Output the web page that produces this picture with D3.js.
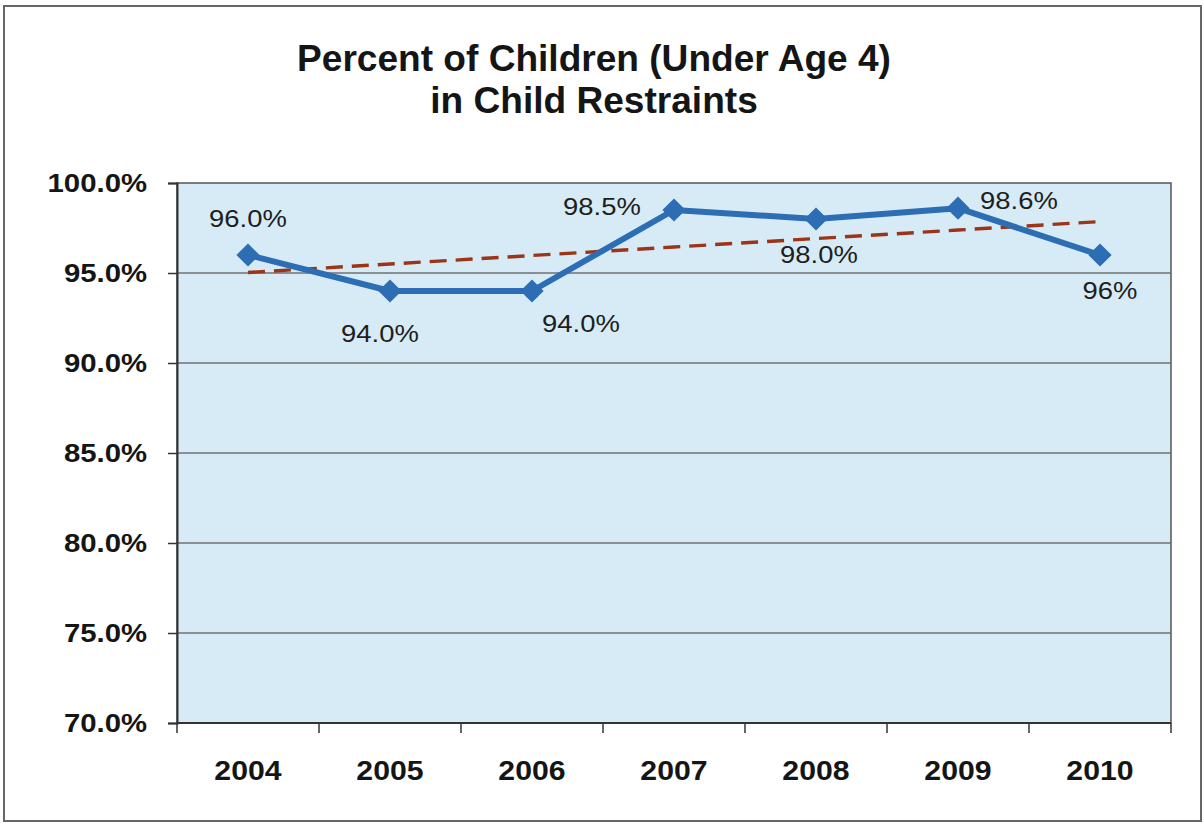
<!DOCTYPE html>
<html>
<head>
<meta charset="utf-8">
<script src="https://cdn.jsdelivr.net/npm/d3@7"></script>
<style>
  html, body { margin: 0; padding: 0; background: #fff; }
  svg { display: block; font-family: "Liberation Sans", Arial, Helvetica, sans-serif; }
</style>
</head>
<body>
<svg id="chart" width="1204" height="823"></svg>
<script>
// ---- data ----
const years = ["2004", "2005", "2006", "2007", "2008", "2009", "2010"];
const percents = [96.0, 94.0, 94.0, 98.5, 98.0, 98.6, 96.0];
const valueLabels = ["96.0%", "94.0%", "94.0%", "98.5%", "98.0%", "98.6%", "96%"];
const yTicks = [70, 75, 80, 85, 90, 95, 100];
const titleLines = ["Percent of Children (Under Age 4)", "in Child Restraints"];

// label placement (style, not data)
const labelOffsets = [[0, -28], [-10, 51], [49, 41], [-72, 5], [3, 44], [61, 1], [10, 44]];

const svg = d3.select("#chart");
const m = { left: 177, right: 1171, top: 183, bottom: 723 };

// outer frame
svg.append("rect").attr("x", 4).attr("y", 6).attr("width", 1197).attr("height", 815)
  .attr("fill", "#fff").attr("stroke", "#666").attr("stroke-width", 2);

// title
svg.append("g").selectAll("text").data(titleLines).join("text")
  .attr("transform", (d, i) => `translate(594,${71 + i * 42}) scale(1.03,1)`)
  .attr("text-anchor", "middle")
  .attr("font-size", 36).attr("font-weight", "bold").attr("fill", "#151515")
  .text(d => d);

const x = d3.scaleBand().domain(years).range([m.left, m.right]).padding(0);
const y = d3.scaleLinear().domain([70, 100]).range([m.bottom, m.top]);

// plot background
svg.append("rect").attr("x", m.left).attr("y", m.top)
  .attr("width", m.right - m.left).attr("height", m.bottom - m.top)
  .attr("fill", "#d6ebf5").attr("stroke", "#555").attr("stroke-width", 1.5);

// gridlines
svg.append("g").selectAll("line").data(yTicks.filter(t => t > 70 && t < 100)).join("line")
  .attr("x1", m.left).attr("x2", m.right)
  .attr("y1", d => y(d)).attr("y2", d => y(d))
  .attr("stroke", "#707070").attr("stroke-width", 1.5);

// y axis
const yAxis = svg.append("g").attr("transform", `translate(${m.left},0)`)
  .call(d3.axisLeft(y).tickValues(yTicks).tickFormat(d => d.toFixed(1) + "%").tickSize(9).tickPadding(21));
yAxis.select(".domain").attr("stroke", "#333").attr("stroke-width", 2);
yAxis.selectAll(".tick line").attr("stroke", "#333").attr("stroke-width", 1.5);
yAxis.selectAll(".tick text").attr("font-size", 25.5).attr("font-weight", "bold")
  .attr("fill", "#151515").attr("font-family", "Liberation Sans, Arial, sans-serif")
  .attr("transform", "scale(1.15,1)")
  .attr("x", -30 / 1.15);

// x axis with ticks at band boundaries
const xAxisG = svg.append("g").attr("transform", `translate(0,${m.bottom})`);
xAxisG.append("line").attr("x1", m.left).attr("x2", m.right).attr("y1", 0).attr("y2", 0)
  .attr("stroke", "#333").attr("stroke-width", 2);
const boundaries = years.map(d => x(d)).concat([x(years[years.length - 1]) + x.bandwidth()]);
xAxisG.selectAll("line.tk").data(boundaries).join("line").attr("class", "tk")
  .attr("x1", d => d).attr("x2", d => d).attr("y1", 0).attr("y2", 10)
  .attr("stroke", "#333").attr("stroke-width", 1.5);
xAxisG.selectAll("text").data(years).join("text")
  .attr("transform", d => `translate(${x(d) + x.bandwidth() / 2},57) scale(1.12,1)`)
  .attr("text-anchor", "middle")
  .attr("font-size", 27).attr("font-weight", "bold").attr("fill", "#151515")
  .text(d => d);

// trend line (least squares fit of series)
const n = percents.length;
const xs = d3.range(n);
const mx = d3.mean(xs), my = d3.mean(percents);
const slope = d3.sum(xs, i => (i - mx) * (percents[i] - my)) / d3.sum(xs, i => (i - mx) ** 2);
const icpt = my - slope * mx;
const trend = xs.map(i => [years[i], icpt + slope * i]);
const cx = d => x(d) + x.bandwidth() / 2;
svg.append("path").datum(trend)
  .attr("d", d3.line().x(d => cx(d[0])).y(d => y(d[1])))
  .attr("fill", "none").attr("stroke", "#9c3418").attr("stroke-width", 3.4)
  .attr("stroke-dasharray", "17,9");

// series line
const series = years.map((d, i) => [d, percents[i]]);
svg.append("path").datum(series)
  .attr("d", d3.line().x(d => cx(d[0])).y(d => y(d[1])))
  .attr("fill", "none").attr("stroke", "#2d6db4").attr("stroke-width", 6)
  .attr("stroke-linejoin", "round");

// markers
svg.append("g").selectAll("path").data(series).join("path")
  .attr("d", d3.symbol(d3.symbolSquare, 270))
  .attr("transform", d => `translate(${cx(d[0])},${y(d[1])}) rotate(45)`)
  .attr("fill", "#2d6db4");

// value labels
svg.append("g").selectAll("text").data(series).join("text")
  .attr("transform", (d, i) => `translate(${cx(d[0]) + labelOffsets[i][0]},${y(d[1]) + labelOffsets[i][1]}) scale(1.12,1)`)
  .attr("text-anchor", "middle")
  .attr("font-size", 24.5).attr("fill", "#1e1e1e")
  .text((d, i) => valueLabels[i]);
</script>
</body>
</html>
